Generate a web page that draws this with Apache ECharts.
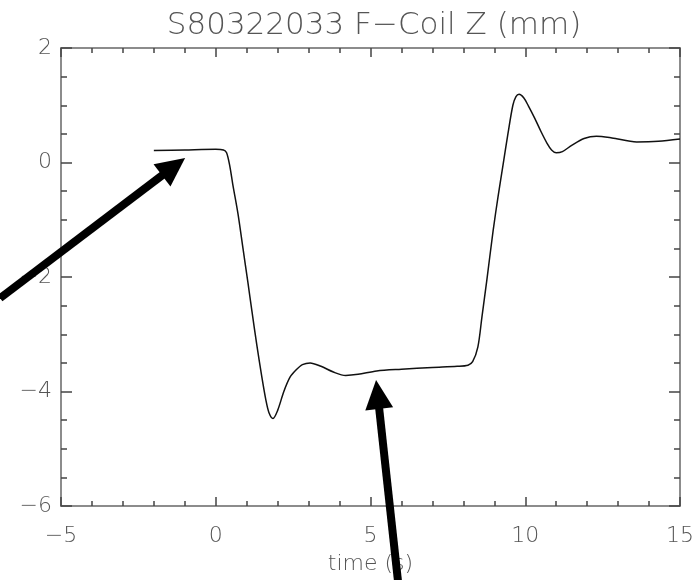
<!DOCTYPE html>
<html>
<head>
<meta charset="utf-8">
<script src="https://cdn.jsdelivr.net/npm/echarts@6/dist/echarts.min.js"></script>
<style>
  html, body { margin: 0; padding: 0; background: #fff; }
  #main { width: 700px; height: 580px; }
</style>
</head>
<body>
<div id="main"></div>
<script>
// time (s) and F-Coil Z (mm)
const times = [-2, -1, 0, 0.25, 0.35, 0.45, 0.55, 0.72, 0.88, 1.04, 1.17, 1.33, 1.49, 1.62, 1.72, 1.85, 2.0, 2.2, 2.4, 2.6,
  2.8, 3.05, 3.4, 3.8, 4.2, 4.6, 5.2, 6.0, 7.0, 7.8, 8.15, 8.3, 8.47, 8.6, 8.76, 8.96, 9.12, 9.28, 9.44, 9.6,
  9.7, 9.8, 9.95, 10.1, 10.3, 10.5, 10.7, 10.85, 11.0, 11.2, 11.5, 11.9, 12.3, 12.8, 13.6, 14.3, 15];
const coilZ = [0.21, 0.22, 0.23, 0.22, 0.17, -0.05, -0.38, -0.9, -1.5, -2.1, -2.6, -3.2, -3.75, -4.15, -4.37, -4.47, -4.33, -4.0, -3.75, -3.62,
  -3.53, -3.5, -3.56, -3.66, -3.72, -3.7, -3.64, -3.61, -3.58, -3.56, -3.54, -3.48, -3.22, -2.7, -2.05, -1.2, -0.6, -0.05, 0.5, 1.0,
  1.15, 1.19, 1.13, 0.99, 0.78, 0.55, 0.34, 0.22, 0.17, 0.19, 0.3, 0.42, 0.46, 0.43, 0.36, 0.37, 0.41];

// arrow annotations in data units: [tailX, tailY, tipX, tipY]
const arrows = [
  [-6.97, -2.37, -0.99, 0.08],
  [5.92, -7.47, 5.18, -3.80]
];

const minus = v => String(v).replace('-', '\u2212');
const font = 'DejaVu Sans';
const axisGray = '#8c8c8c';

const chart = echarts.init(document.getElementById('main'), null, { renderer: 'canvas' });

const xBase = {
  type: 'value', min: -5, max: 15, interval: 5,
  axisLine: { show: true, onZero: false, lineStyle: { color: axisGray, width: 2 } },
  axisTick: { show: true, inside: true, length: 9, lineStyle: { color: '#444', width: 1.5 } },
  minorTick: { show: true, splitNumber: 5, length: 5, lineStyle: { color: '#444', width: 1.5 } },
  splitLine: { show: false }
};
const yBase = {
  type: 'value', min: -6, max: 2, interval: 2,
  axisLine: { show: true, onZero: false, lineStyle: { color: axisGray, width: 2 } },
  axisTick: { show: true, inside: true, length: 11, lineStyle: { color: '#444', width: 1.5 } },
  minorTick: { show: true, splitNumber: 4, length: 6, lineStyle: { color: '#444', width: 1.5 } },
  splitLine: { show: false }
};

chart.setOption({
  animation: false,
  title: {
    text: 'S80322033 F\u2212Coil Z (mm)',
    left: 369, top: 5, textAlign: 'center',
    textStyle: { fontFamily: font, fontSize: 31, fontWeight: 'lighter', color: '#555' }
  },
  grid: { left: 61, right: 20, top: 48, bottom: 74 },
  xAxis: [
    Object.assign({}, xBase, {
      position: 'bottom',
      name: 'time (s)', nameLocation: 'middle', nameGap: 47,
      nameTextStyle: { fontFamily: font, fontSize: 22, fontWeight: 'lighter', color: '#555' },
      axisLabel: { margin: 19, fontFamily: font, fontSize: 22, fontWeight: 'lighter', color: '#555', formatter: minus }
    }),
    Object.assign({}, xBase, { position: 'top', axisLabel: { show: false } })
  ],
  yAxis: [
    Object.assign({}, yBase, {
      position: 'left',
      axisLabel: { margin: 9, fontFamily: font, fontSize: 22, fontWeight: 'lighter', color: '#555', formatter: minus }
    }),
    Object.assign({}, yBase, { position: 'right', axisLabel: { show: false } })
  ],
  series: [{
    type: 'line',
    data: times.map((t, i) => [t, coilZ[i]]),
    smooth: 0.3,
    showSymbol: false,
    lineStyle: { color: '#111', width: 1.5 }
  }]
});

// build arrows from their data positions
const graphics = [];
arrows.forEach(a => {
  const tail = chart.convertToPixel({ gridIndex: 0 }, [a[0], a[1]]);
  const tip = chart.convertToPixel({ gridIndex: 0 }, [a[2], a[3]]);
  const dx = tip[0] - tail[0], dy = tip[1] - tail[1];
  const len = Math.sqrt(dx * dx + dy * dy);
  const ux = dx / len, uy = dy / len;
  const headLen = 29, headHalf = 14;
  const bx = tip[0] - ux * headLen, by = tip[1] - uy * headLen;
  graphics.push({
    type: 'line', silent: true, z: 100,
    shape: { x1: tail[0], y1: tail[1], x2: bx + ux * 2, y2: by + uy * 2 },
    style: { stroke: '#000', lineWidth: 8 }
  });
  graphics.push({
    type: 'polygon', silent: true, z: 100,
    shape: { points: [tip, [bx - uy * headHalf, by + ux * headHalf], [bx + uy * headHalf, by - ux * headHalf]] },
    style: { fill: '#000' }
  });
});
chart.setOption({ graphic: graphics });
</script>
</body>
</html>
